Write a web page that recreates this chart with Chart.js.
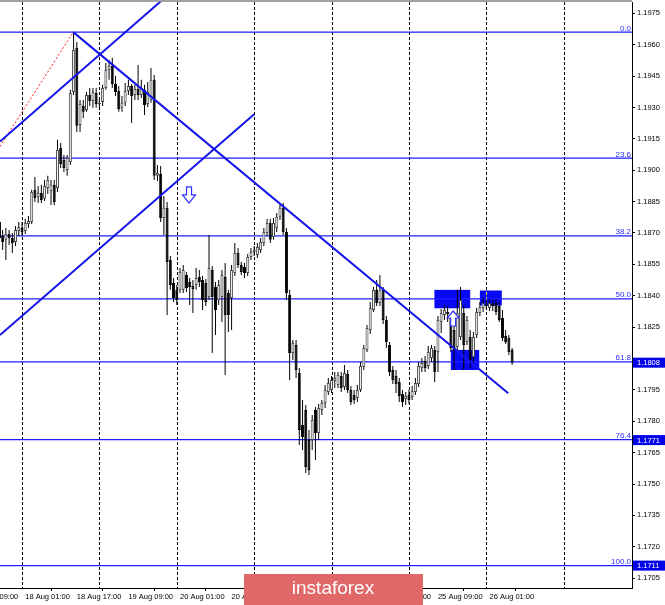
<!DOCTYPE html>
<html>
<head>
<meta charset="utf-8">
<script src="https://cdn.jsdelivr.net/npm/chart.js@4.4.1/dist/chart.umd.min.js"></script>
<style>
  html, body { margin: 0; padding: 0; background: #fff; overflow: hidden; }
  canvas { display: block; }
</style>
</head>
<body>
<canvas id="chart" width="665" height="605"></canvas>
<script>
// EURUSD, H1 candles. Bar index 0 = 18 Aug 00:00, one unit per hour.
const firstBar = -7;

const opens = [
  1.18753, 1.18686, 1.18667, 1.18695, 1.18676, 1.18657, 1.18710, 1.18724, 1.18710, 1.18743,
  1.18753, 1.18906, 1.18872, 1.18891, 1.18863, 1.18915, 1.18901, 1.18930, 1.18915, 1.19106,
  1.19049, 1.19001, 1.19039, 1.19374, 1.19585, 1.19216, 1.19307, 1.19288, 1.19360, 1.19331,
  1.19369, 1.19317, 1.19326, 1.19393, 1.19479, 1.19498, 1.19412, 1.19379, 1.19298, 1.19322,
  1.19379, 1.19403, 1.19360, 1.19388, 1.19360, 1.19384, 1.19317, 1.19336, 1.19432, 1.18973,
  1.18982, 1.18772, 1.18820, 1.18571, 1.18461, 1.18428, 1.18428, 1.18428, 1.18499, 1.18466,
  1.18447, 1.18451, 1.18490, 1.18475, 1.18461, 1.18394, 1.18523, 1.18442, 1.18380, 1.18394,
  1.18490, 1.18413, 1.18389, 1.18509, 1.18604, 1.18547, 1.18537, 1.18509, 1.18585, 1.18609,
  1.18595, 1.18619, 1.18652, 1.18700, 1.18748, 1.18681, 1.18724, 1.18777, 1.18820, 1.18705,
  1.18404, 1.18126, 1.18165, 1.18031, 1.17782, 1.17854, 1.17710, 1.17710, 1.17854, 1.17744,
  1.17854, 1.17887, 1.17940, 1.17949, 1.17992, 1.17973, 1.18016, 1.17964, 1.18026, 1.17949,
  1.17926, 1.17911, 1.17949, 1.18059, 1.18141, 1.18236, 1.18332, 1.18428, 1.18365, 1.18428,
  1.18284, 1.18165, 1.18045, 1.18016, 1.17988, 1.17930, 1.17906, 1.17926, 1.17916, 1.17940,
  1.17978, 1.18055, 1.18088, 1.18064, 1.18102, 1.18141, 1.18131, 1.18275, 1.18308, 1.18322,
  1.18294, 1.18236, 1.18155, 1.18203, 1.18318, 1.18179, 1.18203, 1.18107, 1.18212, 1.18318,
  1.18341, 1.18356, 1.18341, 1.18361, 1.18365, 1.18351, 1.18294, 1.18208, 1.18198, 1.18141
];
const highs = [
  1.18772, 1.18714, 1.18724, 1.18714, 1.18700, 1.18733, 1.18753, 1.18753, 1.18767, 1.18781,
  1.18906, 1.18968, 1.18925, 1.18930, 1.18953, 1.18973, 1.18953, 1.18953, 1.19145, 1.19130,
  1.19073, 1.19073, 1.19384, 1.19660, 1.19613, 1.19336, 1.19336, 1.19374, 1.19393, 1.19393,
  1.19393, 1.19345, 1.19408, 1.19513, 1.19527, 1.19537, 1.19451, 1.19403, 1.19355, 1.19417,
  1.19432, 1.19412, 1.19408, 1.19503, 1.19432, 1.19408, 1.19422, 1.19489, 1.19455, 1.19025,
  1.19020, 1.18877, 1.18848, 1.18590, 1.18485, 1.18451, 1.18533, 1.18547, 1.18514, 1.18485,
  1.18475, 1.18533, 1.18523, 1.18494, 1.18480, 1.18690, 1.18542, 1.18466, 1.18475, 1.18523,
  1.18557, 1.18428, 1.18547, 1.18652, 1.18628, 1.18561, 1.18557, 1.18600, 1.18628, 1.18638,
  1.18652, 1.18676, 1.18724, 1.18767, 1.18767, 1.18772, 1.18796, 1.18834, 1.18843, 1.18724,
  1.18428, 1.18188, 1.18188, 1.18055, 1.17902, 1.17878, 1.17758, 1.17830, 1.17868, 1.17882,
  1.17902, 1.17973, 1.18007, 1.18016, 1.18035, 1.18035, 1.18035, 1.18069, 1.18045, 1.17969,
  1.17949, 1.17973, 1.18083, 1.18165, 1.18260, 1.18370, 1.18442, 1.18475, 1.18499, 1.18442,
  1.18303, 1.18179, 1.18064, 1.18045, 1.18007, 1.17949, 1.17940, 1.17949, 1.17969, 1.18007,
  1.18083, 1.18102, 1.18112, 1.18160, 1.18165, 1.18160, 1.18303, 1.18337, 1.18356, 1.18351,
  1.18313, 1.18275, 1.18428, 1.18442, 1.18356, 1.18303, 1.18236, 1.18227, 1.18341, 1.18370,
  1.18389, 1.18380, 1.18384, 1.18380, 1.18384, 1.18370, 1.18332, 1.18236, 1.18212, 1.18150
];
const lows = [
  1.18657, 1.18619, 1.18571, 1.18643, 1.18604, 1.18638, 1.18686, 1.18686, 1.18695, 1.18724,
  1.18743, 1.18848, 1.18843, 1.18843, 1.18853, 1.18886, 1.18834, 1.18834, 1.18896, 1.19011,
  1.18992, 1.18973, 1.19025, 1.19360, 1.19183, 1.19183, 1.19250, 1.19279, 1.19307, 1.19298,
  1.19298, 1.19288, 1.19307, 1.19384, 1.19432, 1.19393, 1.19355, 1.19279, 1.19279, 1.19307,
  1.19360, 1.19226, 1.19336, 1.19336, 1.19345, 1.19264, 1.19302, 1.19322, 1.18953, 1.18949,
  1.18753, 1.18690, 1.18308, 1.18428, 1.18370, 1.18356, 1.18413, 1.18413, 1.18418, 1.18356,
  1.18318, 1.18428, 1.18442, 1.18332, 1.18351, 1.18380, 1.18126, 1.18212, 1.18356, 1.18275,
  1.18021, 1.18227, 1.18236, 1.18494, 1.18533, 1.18499, 1.18485, 1.18494, 1.18571, 1.18590,
  1.18580, 1.18604, 1.18638, 1.18686, 1.18652, 1.18667, 1.18705, 1.18762, 1.18690, 1.18380,
  1.17997, 1.18093, 1.18007, 1.17686, 1.17663, 1.17553, 1.17543, 1.17663, 1.17615, 1.17710,
  1.17830, 1.17863, 1.17926, 1.17935, 1.17959, 1.17959, 1.17940, 1.17949, 1.17935, 1.17878,
  1.17882, 1.17892, 1.17940, 1.18045, 1.18131, 1.18217, 1.18322, 1.18351, 1.18351, 1.18265,
  1.18150, 1.18016, 1.17978, 1.17935, 1.17892, 1.17868, 1.17878, 1.17882, 1.17902, 1.17926,
  1.17964, 1.18035, 1.18035, 1.18050, 1.18083, 1.17988, 1.18035, 1.18222, 1.18284, 1.18275,
  1.18131, 1.18045, 1.18141, 1.18188, 1.18045, 1.18165, 1.18055, 1.18083, 1.18198, 1.18303,
  1.18322, 1.18332, 1.18327, 1.18327, 1.18308, 1.18275, 1.18184, 1.18169, 1.18117, 1.18070
];
const closes = [
  1.18676, 1.18657, 1.18695, 1.18676, 1.18652, 1.18714, 1.18729, 1.18705, 1.18748, 1.18757,
  1.18896, 1.18867, 1.18891, 1.18858, 1.18925, 1.18953, 1.18930, 1.18848, 1.19097, 1.19030,
  1.19011, 1.19059, 1.19369, 1.19575, 1.19212, 1.19317, 1.19279, 1.19360, 1.19331, 1.19374,
  1.19317, 1.19322, 1.19393, 1.19479, 1.19498, 1.19412, 1.19374, 1.19293, 1.19322, 1.19379,
  1.19403, 1.19355, 1.19388, 1.19360, 1.19393, 1.19312, 1.19374, 1.19432, 1.18973, 1.18987,
  1.18772, 1.18820, 1.18561, 1.18451, 1.18389, 1.18380, 1.18514, 1.18523, 1.18437, 1.18442,
  1.18432, 1.18485, 1.18466, 1.18380, 1.18370, 1.18533, 1.18394, 1.18332, 1.18451, 1.18499,
  1.18308, 1.18308, 1.18523, 1.18604, 1.18547, 1.18514, 1.18509, 1.18585, 1.18609, 1.18619,
  1.18633, 1.18657, 1.18705, 1.18748, 1.18667, 1.18748, 1.18777, 1.18820, 1.18705, 1.18413,
  1.18126, 1.18174, 1.18045, 1.17758, 1.17725, 1.17581, 1.17567, 1.17806, 1.17744, 1.17863,
  1.17887, 1.17949, 1.17983, 1.17997, 1.18007, 1.18021, 1.17959, 1.18031, 1.17949, 1.17892,
  1.17902, 1.17949, 1.18064, 1.18150, 1.18246, 1.18341, 1.18428, 1.18365, 1.18428, 1.18284,
  1.18179, 1.18035, 1.17997, 1.17978, 1.17921, 1.17892, 1.17921, 1.17902, 1.17945, 1.17983,
  1.18064, 1.18078, 1.18055, 1.18131, 1.18150, 1.18035, 1.18284, 1.18318, 1.18332, 1.18313,
  1.18150, 1.18141, 1.18318, 1.18380, 1.18165, 1.18284, 1.18093, 1.18203, 1.18322, 1.18346,
  1.18365, 1.18351, 1.18365, 1.18351, 1.18322, 1.18284, 1.18198, 1.18179, 1.18131, 1.18080
];

// Time axis labels (bar index -> text) and day separators
const timeTickBars = [-15, 1, 17, 33, 49, 65, 81, 97, 113, 129, 145];
const timeTickLabels = ['17 Aug 09:00', '18 Aug 01:00', '18 Aug 17:00', '19 Aug 09:00',
  '20 Aug 01:00', '20 Aug 17:00', '21 Aug 09:00', '24 Aug 01:00', '24 Aug 17:00',
  '25 Aug 09:00', '26 Aug 01:00'];
const dayStartBars = [0, 24, 48, 72, 96, 120, 144, 168];

// Price axis
const priceTicks = [1.1705, 1.1720, 1.1735, 1.1750, 1.1765, 1.1780, 1.1795, 1.1810, 1.1825,
  1.1840, 1.1855, 1.1870, 1.1885, 1.1900, 1.1915, 1.1930, 1.1945, 1.1960, 1.1975];
const priceTags = [1.1808, 1.1771, 1.1711];

// Fibonacci retracement between swing high and swing low
const fibHigh = 1.1966;
const fibLow = 1.1711;
const fibLevels = [0.0, 23.6, 38.2, 50.0, 61.8, 76.4, 100.0];

// Trend lines (bar index, price)
const channelUpper = [{ x: -6.82, y: 1.19137 }, { x: 50, y: 1.19901 }];
const channelLower = [{ x: -6.82, y: 1.18212 }, { x: 72.0, y: 1.19268 }];
const downTrend = [{ x: 15.9, y: 1.19660 }, { x: 150.8, y: 1.17934 }];
const swingRay = [{ x: -6.82, y: 1.19113 }, { x: 15.9, y: 1.19660 }];

// Highlighted zones and signal arrows
const zones = [
  { from: 127.9, to: 139.0, top: 1.18428, bottom: 1.18340 },
  { from: 142.0, to: 148.8, top: 1.18425, bottom: 1.18353 },
  { from: 133.0, to: 141.8, top: 1.18141, bottom: 1.18045 }
];
const signals = [
  { bar: 51.8, price: 1.18920, dir: 'down' },
  { bar: 133.7, price: 1.18327, dir: 'up' }
];

const X_MIN = -6.823, X_MAX = 189.18;
const Y_MIN = 1.17003, Y_MAX = 1.19804;

const FONT = "'Liberation Sans', Arial, sans-serif";
const BLUE = 'rgb(20,20,235)';
const FIB_BLUE = 'rgb(30,30,255)';

Chart.defaults.font.family = FONT;
Chart.defaults.font.size = 7.5;
Chart.defaults.color = '#000';

const wickData = opens.map((o, i) => ({ x: firstBar + i, y: [lows[i], highs[i]] }));
const bodyData = opens.map((o, i) => ({ x: firstBar + i, y: [o, closes[i]] }));
const bodyFill = opens.map((o, i) => (closes[i] >= o ? '#ffffff' : '#000000'));
const bodyEdge = opens.map((o, i) => (closes[i] >= o ? '#4a4a4a' : '#000000'));

// a price label hidden behind a tag box is left blank
const tickText = v => (priceTags.some(t => Math.abs(t - v) < 0.0003) ? '' : v.toFixed(4));

const decor = {
  id: 'decor',
  beforeDraw(chart) {
    const { ctx } = chart;
    ctx.save();
    ctx.fillStyle = '#ffffff';
    ctx.fillRect(0, 0, chart.width, chart.height);
    ctx.restore();
  },
  beforeDatasetsDraw(chart) {
    const { ctx, chartArea: a, scales: { x, y } } = chart;
    ctx.save();
    ctx.beginPath();
    ctx.rect(a.left, a.top, a.right - a.left, a.bottom - a.top);
    ctx.clip();

    // zones
    ctx.fillStyle = 'rgb(8,8,245)';
    zones.forEach(z => {
      const x0 = x.getPixelForValue(z.from), x1 = x.getPixelForValue(z.to);
      const y0 = y.getPixelForValue(z.top), y1 = y.getPixelForValue(z.bottom);
      ctx.fillRect(x0, y0, x1 - x0, y1 - y0);
    });

    // day separators
    ctx.globalCompositeOperation = 'difference';
    ctx.strokeStyle = '#ffffff';
    ctx.lineWidth = 1;
    ctx.setLineDash([3, 2]);
    dayStartBars.forEach(b => {
      const px = Math.round(x.getPixelForValue(b)) + 0.5;
      ctx.beginPath();
      ctx.moveTo(px, a.top);
      ctx.lineTo(px, a.bottom);
      ctx.stroke();
    });
    ctx.globalCompositeOperation = 'source-over';
    ctx.setLineDash([]);

    // fibonacci levels
    ctx.strokeStyle = FIB_BLUE;
    ctx.lineWidth = 1.3;
    fibLevels.forEach(l => {
      const py = y.getPixelForValue(fibHigh - (fibHigh - fibLow) * l / 100);
      ctx.beginPath();
      ctx.moveTo(a.left, py);
      ctx.lineTo(a.right, py);
      ctx.stroke();
    });
    ctx.restore();
  },
  afterDatasetsDraw(chart) {
    const { ctx, chartArea: a, scales: { x, y } } = chart;
    ctx.save();
    // fib level captions
    ctx.fillStyle = 'rgb(45,45,255)';
    ctx.font = '8px ' + FONT;
    ctx.textAlign = 'right';
    ctx.textBaseline = 'alphabetic';
    fibLevels.forEach(l => {
      const py = y.getPixelForValue(fibHigh - (fibHigh - fibLow) * l / 100);
      ctx.fillText(l.toFixed(1), a.right - 1, py - 1.5);
    });

    // signal arrows
    ctx.strokeStyle = 'rgb(50,50,255)';
    ctx.fillStyle = '#ffffff';
    ctx.lineWidth = 1.2;
    signals.forEach(s => {
      const cx = x.getPixelForValue(s.bar);
      const ty = y.getPixelForValue(s.price);
      const pts = s.dir === 'down'
        ? [[-2.5, 0], [2.5, 0], [2.5, 8], [6.5, 8], [0, 16], [-6.5, 8], [-2.5, 8]]
        : [[0, 0], [6, 7], [2.5, 7], [2.5, 15], [-2.5, 15], [-2.5, 7], [-6, 7]];
      ctx.beginPath();
      pts.forEach((p, i) => (i ? ctx.lineTo(cx + p[0], ty + p[1]) : ctx.moveTo(cx + p[0], ty + p[1])));
      ctx.closePath();
      ctx.fill();
      ctx.stroke();
    });
    ctx.restore();
  },
  afterDraw(chart) {
    const { ctx, chartArea: a, scales: { y } } = chart;
    ctx.save();
    // window top border
    ctx.fillStyle = '#a0a0a0';
    ctx.fillRect(0, 0, a.right, 2);

    // price tags on the axis
    ctx.font = '7.5px ' + FONT;
    ctx.textAlign = 'left';
    ctx.textBaseline = 'middle';
    priceTags.forEach(p => {
      const py = y.getPixelForValue(p);
      ctx.fillStyle = 'rgb(0,0,235)';
      ctx.fillRect(a.right + 1, py - 5, chart.width - a.right - 1, 10);
      ctx.fillStyle = '#ffffff';
      ctx.fillText(p.toFixed(4), a.right + 5, py + 0.5);
    });

    // watermark
    ctx.fillStyle = 'rgb(224,104,104)';
    ctx.fillRect(244, 574, 179, 31);
    ctx.fillStyle = '#ffffff';
    ctx.font = '19px ' + FONT;
    ctx.textAlign = 'center';
    ctx.textBaseline = 'alphabetic';
    ctx.fillText('instaforex', 333, 594);
    ctx.restore();
  }
};

new Chart(document.getElementById('chart'), {
  type: 'bar',
  data: {
    datasets: [
      { type: 'line', data: downTrend, borderColor: BLUE, borderWidth: 2, pointRadius: 0, fill: false, order: 0 },
      { type: 'line', data: channelUpper, borderColor: BLUE, borderWidth: 2, pointRadius: 0, fill: false, order: 0 },
      { type: 'line', data: channelLower, borderColor: BLUE, borderWidth: 2, pointRadius: 0, fill: false, order: 0 },
      { type: 'line', data: swingRay, borderColor: '#ff2020', borderWidth: 1, borderDash: [2, 2], pointRadius: 0, fill: false, order: 0 },
      { type: 'bar', data: bodyData, grouped: false, barThickness: 3, backgroundColor: bodyFill,
        borderColor: bodyEdge, borderWidth: 1, borderSkipped: false, minBarLength: 1, inflateAmount: 0, order: 1 },
      { type: 'bar', data: wickData, grouped: false, barThickness: 1, backgroundColor: '#000000',
        borderWidth: 0, inflateAmount: 0, order: 2 }
    ]
  },
  options: {
    responsive: false,
    animation: false,
    layout: { padding: { top: 2, left: 0, right: 0, bottom: 0 } },
    plugins: { legend: { display: false }, tooltip: { enabled: false } },
    scales: {
      x: {
        type: 'linear', position: 'bottom', min: X_MIN, max: X_MAX, offset: false,
        afterBuildTicks: s => { s.ticks = timeTickBars.map(v => ({ value: v })); },
        afterFit: s => { s.height = 17; s.paddingLeft = 0; s.paddingRight = 0; },
        ticks: { autoSkip: false, maxRotation: 0, minRotation: 0, align: 'start', padding: 1,
          color: '#000', font: { size: 7.5 }, callback: (v, i) => timeTickLabels[i] },
        grid: { drawOnChartArea: false, drawTicks: true, tickLength: 3, color: '#000' },
        border: { display: true, color: '#000', width: 1 }
      },
      y: {
        type: 'linear', position: 'right', min: Y_MIN, max: Y_MAX,
        afterBuildTicks: s => { s.ticks = priceTicks.map(v => ({ value: v })); },
        afterFit: s => { s.width = 33; s.paddingTop = 0; s.paddingBottom = 0; },
        ticks: { padding: 2, color: '#000', font: { size: 7.5 }, callback: tickText },
        grid: { drawOnChartArea: false, drawTicks: true, tickLength: 3, color: '#000' },
        border: { display: true, color: '#000', width: 1 }
      }
    }
  },
  plugins: [decor]
});
</script>
</body>
</html>
